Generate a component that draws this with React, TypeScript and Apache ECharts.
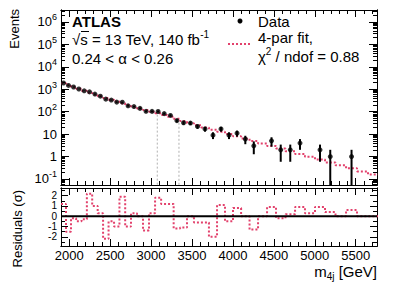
import React, { useEffect, useRef } from "react";
import * as echarts from "echarts";

// ---------------- data ----------------
const binEdges = [1900, 1961, 2022, 2085, 2151, 2216, 2281, 2348, 2414, 2481, 2548, 2614, 2684, 2755, 2828, 2902, 2975, 3049, 3123, 3198, 3276, 3355, 3439, 3524, 3611, 3707, 3806, 3903, 4001, 4100, 4203, 4307, 4417, 4526, 4642, 4759, 4880, 5003, 5125, 5253, 5382, 5516, 5650, 5785];
const dataCounts = [1900, 1479, 1259, 1026, 849, 764, 611, 490, 362, 329, 267, 265, 182, 169, 140, 104, 103, 102, 82, 68, 40, 32, 31, 22, 17, 9, 17, 9, 11, 6, 3, null, 5, 2, 2, 4, null, 2, 1, null, 1, null, null];
const fitValues = [1848, 1538, 1266, 1042, 858, 706, 587, 483, 406, 338, 284, 236, 196, 165, 140, 119, 100, 85, 72, 59, 48, 38.6, 30.8, 24.9, 19.9, 15.8, 12.7, 10.1, 7.98, 6.31, 4.93, 3.82, 2.96, 2.27, 1.72, 1.31, 0.98, 0.736, 0.547, 0.406, 0.299, 0.218, 0.158];
const residuals = [1.2, -1.5, -0.2, -0.5, -0.3, 2.2, 1.0, 0.3, -2.2, -0.5, -1.0, 1.9, -1.0, 0.3, 0, -1.4, 0.3, 1.8, 1.2, 1.2, -1.2, -1.1, 0, -0.6, -0.6, -2.0, 1.1, -0.5, 0.8, 0, -1.3, 0, 0.9, -0.2, 0.2, 0.9, 0.3, 0.9, 0.4, 0, 0.6, 0, 0];
const guideMasses = [3076, 3341];
const guideHeights = [74, 32];

// tick positions
const xMajorTicks = [2000, 2500, 3000, 3500, 4000, 4500, 5000, 5500];
const xMinorTicks = [2100, 2200, 2300, 2400, 2600, 2700, 2800, 2900, 3100, 3200, 3300, 3400, 3600, 3700, 3800, 3900, 4100, 4200, 4300, 4400, 4600, 4700, 4800, 4900, 5100, 5200, 5300, 5400, 5600, 5700];
const yMajorTicks = [0.1, 1, 10, 100, 1000, 10000, 100000, 1000000];
const yMinorTicks = [0.06, 0.07, 0.08, 0.09, 0.2, 0.3, 0.4, 0.5, 0.6, 0.7, 0.8, 0.9, 2, 3, 4, 5, 6, 7, 8, 9, 20, 30, 40, 50, 60, 70, 80, 90, 200, 300, 400, 500, 600, 700, 800, 900, 2000, 3000, 4000, 5000, 6000, 7000, 8000, 9000, 20000, 30000, 40000, 50000, 60000, 70000, 80000, 90000, 200000, 300000, 400000, 500000, 600000, 700000, 800000, 900000, 2000000, 3000000];
const resMajorTicks = [-2, -1, 0, 1, 2];
const resEvenLabels = [-2, 0, 2];
const resOddLabels = [-1, 1];
const resMinorTicks = [-2.5, -1.5, -0.5, 0.5, 1.5, 2.5];

// ---------------- styling ----------------
const FONT = "'Liberation Sans', Arial, Helvetica, sans-serif";
const FIT_COLOR = "#e2416c";
const X_MIN = 1900;
const X_MAX = 5760;
const Y_MIN = 0.054;
const Y_MAX = 3.4e6;
const R_MIN = -2.9;
const R_MAX = 2.75;
const axisLine = { color: "#000", width: 1 };

function xAxesFor(gridIndex: number, showLabels: boolean) {
  const base = {
    type: "value",
    gridIndex,
    min: X_MIN,
    max: X_MAX,
    splitLine: { show: false },
    axisLine: { show: true, onZero: false, lineStyle: axisLine },
  };
  const major = (position: string, labels: boolean) => ({
    ...base,
    position,
    axisTick: { show: true, inside: true, length: 7, customValues: xMajorTicks, lineStyle: axisLine },
    axisLabel: labels
      ? {
          show: true,
          interval: 0,
          customValues: xMajorTicks,
          hideOverlap: false,
          showMinLabel: true,
          showMaxLabel: true,
          margin: 3,
          fontSize: 13,
          color: "#000",
          fontFamily: FONT,
          formatter: (v: number) => String(v),
        }
      : { show: false },
  });
  const minor = (position: string) => ({
    ...base,
    position,
    axisTick: { show: true, inside: true, length: 4, customValues: xMinorTicks, lineStyle: axisLine },
    axisLabel: { show: false },
  });
  return [major("bottom", showLabels), minor("bottom"), major("top", false), minor("top")];
}

function logLabel(v: number) {
  const e = Math.round(Math.log10(v));
  if (e === 0) return "{b|1}";
  if (e === 1) return "{b|10}";
  return `{b|10}{s|${e}}`;
}

function yAxesUpper() {
  const base = {
    type: "log",
    logBase: 10,
    gridIndex: 0,
    min: Y_MIN,
    max: Y_MAX,
    splitLine: { show: false },
    axisLine: { show: true, lineStyle: axisLine },
  };
  return [
    {
      ...base,
      position: "left",
      axisTick: { show: true, inside: true, length: 8, customValues: yMajorTicks, lineStyle: axisLine },
      axisLabel: {
        show: true,
        interval: 0,
        customValues: yMajorTicks,
        hideOverlap: false,
        showMinLabel: true,
        showMaxLabel: true,
        margin: 4,
        color: "#000",
        fontFamily: FONT,
        formatter: logLabel,
        rich: {
          b: { fontSize: 13, lineHeight: 18, fontFamily: FONT, color: "#000" },
          s: { fontSize: 9, lineHeight: 9, verticalAlign: "top", fontFamily: FONT, color: "#000" },
        },
      },
    },
    {
      ...base,
      position: "left",
      axisTick: { show: true, inside: true, length: 4, customValues: yMinorTicks, lineStyle: axisLine },
      axisLabel: { show: false },
    },
    {
      ...base,
      position: "right",
      axisTick: { show: true, inside: true, length: 8, customValues: yMajorTicks, lineStyle: axisLine },
      axisLabel: { show: false },
    },
    {
      ...base,
      position: "right",
      axisTick: { show: true, inside: true, length: 4, customValues: yMinorTicks, lineStyle: axisLine },
      axisLabel: { show: false },
    },
  ];
}

function resLabel(values: number[]) {
  return {
    show: true,
    interval: 0,
    customValues: values,
    hideOverlap: false,
    showMinLabel: true,
    showMaxLabel: true,
    margin: 4,
    fontSize: 10,
    lineHeight: 9,
    color: "#000",
    fontFamily: FONT,
    formatter: (v: number) => String(v),
  };
}

function yAxesLower() {
  const base = {
    type: "value",
    gridIndex: 1,
    min: R_MIN,
    max: R_MAX,
    splitLine: { show: false },
    axisLine: { show: true, onZero: false, lineStyle: axisLine },
  };
  return [
    {
      ...base,
      position: "left",
      axisTick: { show: true, inside: true, length: 7, customValues: resMajorTicks, lineStyle: axisLine },
      axisLabel: resLabel(resEvenLabels),
    },
    {
      ...base,
      position: "left",
      axisTick: { show: true, inside: true, length: 4, customValues: resMinorTicks, lineStyle: axisLine },
      axisLabel: resLabel(resOddLabels),
    },
    {
      ...base,
      position: "right",
      axisTick: { show: true, inside: true, length: 7, customValues: resMajorTicks, lineStyle: axisLine },
      axisLabel: { show: false },
    },
    {
      ...base,
      position: "right",
      axisTick: { show: true, inside: true, length: 4, customValues: resMinorTicks, lineStyle: axisLine },
      axisLabel: { show: false },
    },
  ];
}

function buildOption() {
  const last = fitValues.length - 1;
  const fitStep = binEdges.map((e, i) => [e, fitValues[Math.min(i, last)]]);
  const resStep = binEdges.map((e, i) => [e, residuals[Math.min(i, last)]]);
  const points: number[][] = [];
  dataCounts.forEach((n, i) => {
    if (n === null || n === undefined) return;
    const c = (binEdges[i] + binEdges[i + 1]) / 2;
    const err = Math.sqrt(n);
    points.push([c, n, Math.max(n - err, Y_MIN), n + err]);
  });
  const guides = guideMasses.map((m, i) => [m, guideHeights[i]]);

  const textBase = { fontFamily: FONT, fill: "#000" };
  const rich = {
    a: { fontSize: 15, lineHeight: 20, fontFamily: FONT, color: "#000" },
    s: { fontSize: 10, lineHeight: 10, verticalAlign: "top", fontFamily: FONT, color: "#000" },
    u: { fontSize: 10, lineHeight: 10, verticalAlign: "bottom", fontFamily: FONT, color: "#000" },
  };

  return {
    animation: false,
    backgroundColor: "#fff",
    grid: [
      { left: 61, right: 22, top: 10, height: 175, outerBoundsMode: "none" },
      { left: 61, right: 22, top: 188, height: 58, outerBoundsMode: "none" },
    ],
    xAxis: [...xAxesFor(0, false), ...xAxesFor(1, true)],
    yAxis: [...yAxesUpper(), ...yAxesLower()],
    graphic: [
      { type: "text", x: 14, y: 9, rotation: Math.PI / 2, style: { ...textBase, text: "Events", fontSize: 13, align: "right", verticalAlign: "middle" } },
      { type: "text", x: 17, y: 190, rotation: Math.PI / 2, style: { ...textBase, text: "Residuals (σ)", fontSize: 13, align: "right", verticalAlign: "middle" } },
      { type: "text", x: 377, y: 271, style: { ...textBase, text: "{a|m}{u|4j}{a| [GeV]}", rich, align: "right", verticalAlign: "middle" } },
      { type: "text", x: 72, y: 21, style: { ...textBase, text: "ATLAS", fontSize: 15, fontWeight: "bold", align: "left", verticalAlign: "middle" } },
      { type: "text", x: 72, y: 39, style: { ...textBase, text: "{a|√s = 13 TeV, 140 fb}{s|-1}", rich, align: "left", verticalAlign: "middle" } },
      { type: "line", shape: { x1: 81, y1: 31.5, x2: 89, y2: 31.5 }, style: { stroke: "#000", lineWidth: 1 } },
      { type: "text", x: 72, y: 58, style: { ...textBase, text: "0.24 < α < 0.26", fontSize: 15, align: "left", verticalAlign: "middle" } },
      { type: "circle", shape: { cx: 240, cy: 21, r: 2.5 }, style: { fill: "#000" } },
      { type: "text", x: 258, y: 21, style: { ...textBase, text: "Data", fontSize: 15, align: "left", verticalAlign: "middle" } },
      { type: "line", shape: { x1: 228, y1: 44, x2: 252, y2: 44 }, style: { stroke: FIT_COLOR, lineWidth: 2, lineDash: [2, 2] } },
      { type: "text", x: 258, y: 37, style: { ...textBase, text: "4-par fit,", fontSize: 15, align: "left", verticalAlign: "middle" } },
      { type: "text", x: 258, y: 56, style: { ...textBase, text: "{a|χ}{s|2}{a| / ndof = 0.88}", rich, align: "left", verticalAlign: "middle" } },
    ],
    series: [
      {
        name: "guides",
        type: "custom",
        xAxisIndex: 0,
        yAxisIndex: 0,
        data: guides,
        z: 1,
        renderItem: (_p: any, api: any) => {
          const top = api.coord([api.value(0), api.value(1)]);
          const bot = api.coord([api.value(0), Y_MIN]);
          return {
            type: "line",
            shape: { x1: top[0], y1: top[1], x2: bot[0], y2: bot[1] },
            style: { stroke: "#b0b0b0", lineWidth: 1, lineDash: [2, 2] },
          };
        },
      },
      {
        name: "4-par fit",
        type: "line",
        xAxisIndex: 0,
        yAxisIndex: 0,
        step: "end",
        data: fitStep,
        symbol: "none",
        z: 2,
        lineStyle: { color: FIT_COLOR, width: 2, type: [2, 2] },
      },
      {
        name: "errors",
        type: "custom",
        xAxisIndex: 0,
        yAxisIndex: 0,
        data: points,
        z: 3,
        renderItem: (_p: any, api: any) => {
          const top = api.coord([api.value(0), api.value(3)]);
          const bot = api.coord([api.value(0), api.value(2)]);
          return {
            type: "line",
            shape: { x1: top[0], y1: top[1], x2: bot[0], y2: bot[1] },
            style: { stroke: "#000", lineWidth: 2 },
          };
        },
      },
      {
        name: "Data",
        type: "scatter",
        xAxisIndex: 0,
        yAxisIndex: 0,
        data: points.map((p) => [p[0], p[1]]),
        symbol: "circle",
        symbolSize: 5,
        z: 4,
        itemStyle: { color: "#000" },
      },
      {
        name: "residuals",
        type: "line",
        xAxisIndex: 4,
        yAxisIndex: 4,
        step: "end",
        data: resStep,
        symbol: "none",
        z: 2,
        lineStyle: { color: FIT_COLOR, width: 2, type: [2, 2] },
      },
      {
        name: "zero",
        type: "line",
        xAxisIndex: 4,
        yAxisIndex: 4,
        data: [
          [X_MIN, 0],
          [X_MAX, 0],
        ],
        symbol: "none",
        z: 3,
        lineStyle: { color: "#000", width: 2 },
      },
    ],
  };
}

export default function App() {
  const ref = useRef<HTMLDivElement>(null);
  useEffect(() => {
    document.body.style.margin = "0";
    const chart = echarts.init(ref.current!, null, { renderer: "svg" });
    chart.setOption(buildOption() as any);
    return () => chart.dispose();
  }, []);
  return (
    <div
      ref={ref}
      style={{ position: "absolute", left: 0, top: 0, width: 399, height: 286, background: "#fff" }}
    />
  );
}
